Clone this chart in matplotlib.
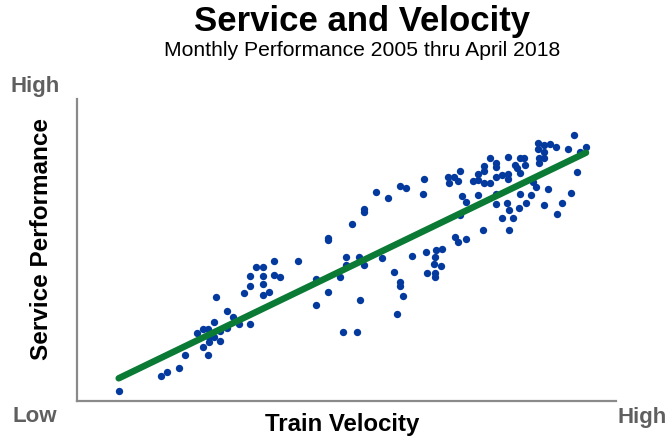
import matplotlib
matplotlib.use("Agg")
import matplotlib.pyplot as plt

plt.rcParams['font.family'] = ['Liberation Sans', 'DejaVu Sans']

# Monthly observations (index units: velocity 0..539, service 0..302)
velocity = [
    41.7, 83.7, 89.7, 101.7, 107.7, 131.3, 125.7, 119.7, 125.7, 131.0,
    131.7, 131.7, 137.3, 137.3, 143.3, 143.3, 149.7, 149.7, 139.0, 155.7,
    161.7, 173.3, 167.3, 173.3, 173.3, 179.3, 185.7, 185.7, 185.7, 185.7,
    191.7, 197.3, 197.3, 203.3, 221.3, 239.3, 239.3, 251.3, 251.3, 251.3,
    263.3, 265.7, 269.0, 269.0, 275.3, 279.7, 281.5, 283.3, 287.3, 287.3,
    287.3, 299.3, 305.3, 311.0, 317.3, 323.0, 323.0, 326.0, 320.0, 323.0,
    329.0, 335.3, 347.0, 346.0, 348.5, 350.3, 359.3, 365.0, 357.7, 356.7,
    364.0, 357.7, 357.7, 371.3, 371.7, 376.5, 380.5, 383.0, 385.0, 389.0,
    383.0, 377.5, 381.0, 389.2, 396.3, 401.3, 401.3, 406.7, 407.2, 407.0,
    413.0, 413.0, 419.0, 419.0, 419.0, 425.0, 431.0, 431.0, 431.0, 401.3,
    418.7, 425.0, 429.7, 431.7, 436.0, 406.3, 431.7, 419.0, 437.7, 440.3,
    443.0, 443.0, 446.5, 447.7, 461.0, 461.0, 466.5, 467.0, 473.0, 479.0,
    461.7, 467.0, 461.7, 497.0, 491.0, 509.0, 503.0, 500.3, 455.7, 459.0,
    471.0, 443.0, 454.3, 493.7, 449.0, 467.0, 442.0, 485.0, 480.3,
]
service = [
    10.0, 24.7, 29.0, 32.7, 45.7, 46.3, 54.0, 68.3, 72.3, 72.3,
    64.0, 58.7, 78.7, 64.3, 70.3, 60.3, 73.0, 90.3, 104.0, 84.3,
    76.7, 77.5, 108.5, 115.5, 125.0, 133.7, 133.7, 124.7, 117.3, 106.3,
    108.7, 140.3, 126.0, 124.0, 139.7, 121.7, 96.0, 109.3, 163.3, 160.7,
    124.3, 69.3, 143.7, 136.0, 176.7, 69.0, 144.5, 100.7, 136.0, 192.3,
    189.0, 208.7, 142.7, 202.7, 129.3, 118.7, 115.3, 105.5, 87.0, 215.5,
    213.0, 145.0, 221.7, 207.5, 148.7, 127.7, 151.0, 151.7, 144.0, 137.0,
    135.5, 128.3, 123.7, 224.3, 218.0, 223.7, 220.5, 230.3, 205.5, 199.3,
    186.0, 164.3, 159.2, 162.0, 220.5, 227.0, 220.7, 235.3, 230.5, 217.8,
    242.7, 218.2, 238.5, 234.5, 224.3, 226.2, 244.2, 226.8, 222.0, 206.5,
    197.5, 182.7, 198.3, 191.0, 182.7, 171.2, 170.8, 207.0, 236.0, 232.7,
    227.7, 242.7, 242.7, 236.5, 258.3, 251.7, 256.0, 249.3, 257.0, 253.7,
    243.5, 243.5, 237.7, 265.7, 251.7, 254.3, 249.3, 229.0, 219.3, 213.7,
    212.3, 207.0, 206.3, 208.3, 198.3, 195.7, 193.0, 198.3, 187.0,
]

# Trend line end points
trend_velocity = [41.7, 509.0]
trend_service = [22.7, 248.3]

x_limits = [0, 539]
y_limits = [0, 302]

title = "Service and Velocity"
subtitle = "Monthly Performance 2005 thru April 2018"
x_label = "Train Velocity"
y_label = "Service Performance"
low_label = "Low"
high_label = "High"

W, H = 670, 441
fig = plt.figure(figsize=(W / 100, H / 100), dpi=100)
ax = fig.add_axes([77 / W, 1 - 401 / H, 539 / W, 302 / H])

ax.scatter(velocity, service, s=28, color='#043a9e', linewidths=0, zorder=2)
ax.plot(trend_velocity, trend_service, color='#0a7a35', lw=4.7,
        solid_capstyle='round', zorder=3)

ax.set_xlim(x_limits)
ax.set_ylim(y_limits)
ax.set_xticks([])
ax.set_yticks([])
for side in ('top', 'right'):
    ax.spines[side].set_visible(False)
for side in ('left', 'bottom'):
    ax.spines[side].set_color('#8a8a8a')
    ax.spines[side].set_linewidth(1.6)

def ftext(px, py, s, **kw):
    fig.text(px / W, 1 - py / H, s, **kw)

ftext(362, 21, title, fontsize=25, fontweight='bold', ha='center', va='center', color='black')
ftext(362, 50, subtitle, fontsize=15.2, ha='center', va='center', color='black')
ftext(342, 425, x_label, fontsize=17.3, fontweight='bold', ha='center', va='center', color='black')
ftext(42, 239, y_label, fontsize=17.5, fontweight='bold', ha='center', va='center',
      rotation=90, color='black')
ftext(35, 86, high_label, fontsize=16, fontweight='bold', ha='center', va='center', color='#5f5f5f')
ftext(35, 417, low_label, fontsize=16, fontweight='bold', ha='center', va='center', color='#5f5f5f')
ftext(642, 417, high_label, fontsize=16, fontweight='bold', ha='center', va='center', color='#5f5f5f')

fig.savefig('out.png', dpi=100)
